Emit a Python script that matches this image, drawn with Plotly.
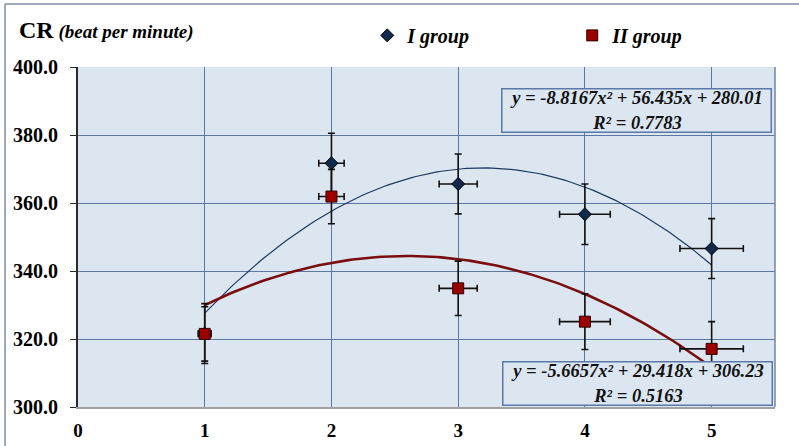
import numpy as np
import plotly.graph_objects as go

# ---- data ----
stages = [1, 2, 3, 4, 5]
x_error = [0.05, 0.10, 0.15, 0.20, 0.25]

group1_name = "I group"
group1_cr = [321.6, 371.7, 365.6, 356.7, 346.6]
group1_err = [8.8, 8.8, 8.8, 8.9, 8.8]

group2_name = "II group"
group2_cr = [321.5, 361.9, 334.9, 325.1, 317.1]
group2_err = [8.0, 8.0, 8.0, 8.2, 8.0]

# polynomial trendline coefficients (as shown on the chart)
group1_trend = [-8.8167, 56.435, 280.01]
group1_r2 = 0.7783
group2_trend = [-5.6657, 29.418, 306.23]
group2_r2 = 0.5163

x_ticks = [0, 1, 2, 3, 4, 5]
y_ticks = [300, 320, 340, 360, 380, 400]

# ---- style ----
FONT = "Liberation Serif"
NAVY = "#0F2A4A"
DARKRED = "#9A0000"
GRID = "#5A78A0"
PLOTBG = "#DCE6F1"

xs = np.linspace(min(stages), max(stages), 121)
trend1 = np.polyval(group1_trend, xs)
trend2 = np.polyval(group2_trend, xs)

fig = go.Figure()

fig.add_trace(go.Scatter(x=xs, y=trend1, mode="lines", showlegend=False,
                         line=dict(color="#1F3A60", width=1.2), hoverinfo="skip"))
fig.add_trace(go.Scatter(x=xs, y=trend2, mode="lines", showlegend=False,
                         line=dict(color="#7A0E0E", width=2.6), hoverinfo="skip"))

err_style = dict(thickness=1.6, width=3.5, color="#111111")
fig.add_trace(go.Scatter(
    x=stages, y=group1_cr, mode="markers", name=f"<b><i>{group1_name}</i></b>",
    marker=dict(symbol="diamond", size=10, color=NAVY, line=dict(color="#000000", width=1)),
    error_y=dict(type="data", array=group1_err, visible=True, **err_style),
    error_x=dict(type="data", array=x_error, visible=True, **err_style),
))
fig.add_trace(go.Scatter(
    x=stages, y=group2_cr, mode="markers", name=f"<b><i>{group2_name}</i></b>",
    marker=dict(symbol="square", size=11, color=DARKRED, line=dict(color="#300000", width=1)),
    error_y=dict(type="data", array=group2_err, visible=True, **err_style),
    error_x=dict(type="data", array=x_error, visible=True, **err_style),
))

def eq_text(c, r2):
    return (f"<b><i>y = {c[0]:.4f}x² + {c[1]:.3f}x + {c[2]:.2f}</i></b><br>"
            f"<b><i>R² = {r2:.4f}</i></b>")

annotations = [
    dict(xref="paper", yref="paper", x=0.8006, y=0.8715, xanchor="center", yanchor="middle",
         text=eq_text(group1_trend, group1_r2), showarrow=False, align="center",
         font=dict(family=FONT, size=18.5, color="#111111"),
         bgcolor=PLOTBG, bordercolor="#5A78A8", borderwidth=1.5, borderpad=0,
         width=268, height=42),
    dict(xref="paper", yref="paper", x=0.8027, y=0.0691, xanchor="center", yanchor="middle",
         text=eq_text(group2_trend, group2_r2), showarrow=False, align="center",
         font=dict(family=FONT, size=18.5, color="#111111"),
         bgcolor=PLOTBG, bordercolor="#5A78A8", borderwidth=1.5, borderpad=0,
         width=268, height=42),
    dict(xref="paper", yref="paper", x=-0.088, y=1.109, xanchor="left", yanchor="middle",
         text="<b>CR</b><span style='font-size:19px'><b><i> (beat per minute)</i></b></span>",
         showarrow=False, font=dict(family=FONT, size=24, color="#000000")),
]

shapes = [
    # right border of the plot area
    dict(type="line", xref="paper", yref="paper", x0=1, x1=1, y0=0, y1=1,
         line=dict(color="#6F86A8", width=1.5)),
    # outer chart frame (left and top)
    dict(type="line", xref="paper", yref="paper", x0=-0.1047, x1=-0.1047, y0=-0.2, y1=1.1853,
         line=dict(color="#7C8CA8", width=1.5)),
    dict(type="line", xref="paper", yref="paper", x0=-0.1047, x1=1.1, y0=1.1853, y1=1.1853,
         line=dict(color="#7C8CA8", width=1.5)),
]

fig.update_layout(
    width=799, height=446,
    margin=dict(l=78, r=24, t=67, b=39, autoexpand=False),
    paper_bgcolor="white", plot_bgcolor=PLOTBG,
    font=dict(family=FONT, color="#000000"),
    showlegend=True,
    legend=dict(orientation="h", x=0.415, y=1.093, xanchor="left", yanchor="middle",
                font=dict(family=FONT, size=20, color="#000000"),
                bgcolor="rgba(0,0,0,0)", entrywidth=160, itemwidth=30,
                traceorder="normal"),
    annotations=annotations,
    shapes=shapes,
)

fig.update_xaxes(
    range=[0, 5.5], tickmode="array", tickvals=x_ticks,
    ticktext=[f"<b>{v}</b>" for v in x_ticks],
    tickfont=dict(family=FONT, size=19, color="#000000"),
    showgrid=True, gridcolor=GRID, gridwidth=1,
    zeroline=False, showline=True, linecolor="#A0A0A0", linewidth=1.5,
    ticks="", ticklabelstandoff=5, automargin=False,
)
fig.update_yaxes(
    range=[300, 400], tickmode="array", tickvals=y_ticks,
    ticktext=[f"<b>{v:.1f}</b>" for v in y_ticks],
    tickfont=dict(family=FONT, size=20, color="#000000"),
    showgrid=True, gridcolor=GRID, gridwidth=1,
    zeroline=False, showline=True, linecolor="#2A2A2A", linewidth=2,
    ticks="outside", ticklen=6, tickcolor="#2A2A2A", tickwidth=1,
    ticklabelstandoff=8, automargin=False,
)

fig.write_html("out.html")
